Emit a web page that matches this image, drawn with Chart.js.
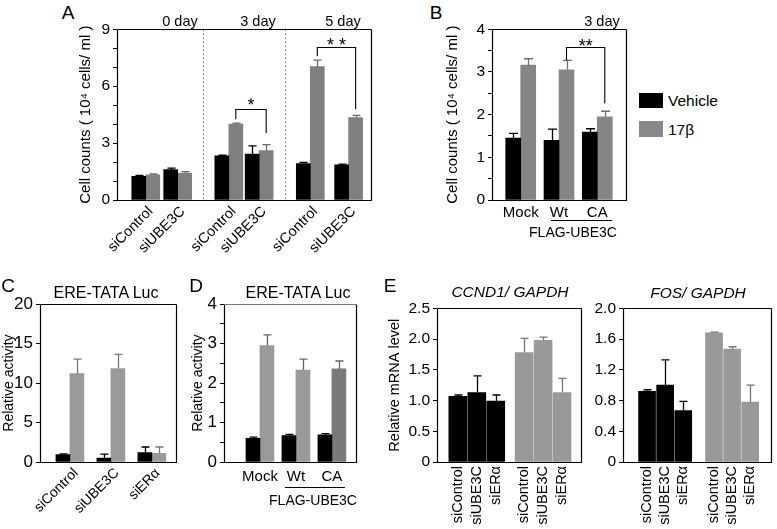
<!DOCTYPE html>
<html><head><meta charset="utf-8">
<script src="https://cdn.jsdelivr.net/npm/chart.js@4.4.1/dist/chart.umd.min.js"></script>
<style>
html,body{margin:0;padding:0;background:#fff;}
#wrap{position:relative;width:777px;height:529px;overflow:hidden;font-family:"Liberation Sans",Arial,Helvetica,sans-serif;color:#000;background:#fff;}
#wrap canvas{position:absolute;}
.t{position:absolute;white-space:nowrap;line-height:1;transform:translate(-50%,-50%);z-index:5;}
.tl{position:absolute;white-space:nowrap;line-height:1;transform:translate(0,-50%);z-index:5;}
.sw{position:absolute;z-index:5;}
</style></head><body><div id="wrap"></div>
<script>
// ---------------- data ----------------
const seriesNames = ['Vehicle', '17\u03B2'];

const aCategories = ['siControl', 'siUBE3C', 'siControl', 'siUBE3C', 'siControl', 'siUBE3C'];
const aDays = ['0 day', '3 day', '5 day'];
const aVehicle = [1.25, 1.60, 2.33, 2.42, 1.92, 1.85];
const aVehicleErr = [0.05, 0.08, 0.03, 0.43, 0.06, 0.04];
const aE2 = [1.33, 1.42, 4.00, 2.60, 7.03, 4.35];
const aE2Err = [0.04, 0.08, 0.05, 0.32, 0.35, 0.11];

const bCategories = ['Mock', 'Wt', 'CA'];
const bVehicle = [1.45, 1.40, 1.59];
const bVehicleErr = [0.11, 0.26, 0.08];
const bE2 = [3.16, 3.05, 1.95];
const bE2Err = [0.15, 0.22, 0.13];

const cCategories = ['siControl', 'siUBE3C', 'siER\u03B1'];
const cVehicle = [0.95, 0.50, 1.20];
const cVehicleErr = [0.08, 0.50, 0.70];
const cE2 = [11.2, 11.85, 1.10];
const cE2Err = [1.85, 1.80, 0.80];

const dCategories = ['Mock', 'Wt', 'CA'];
const dVehicle = [0.60, 0.67, 0.69];
const dVehicleErr = [0.03, 0.03, 0.03];
const dE2 = [2.95, 2.33, 2.36];
const dE2Err = [0.27, 0.28, 0.20];

const eCategories = ['siControl', 'siUBE3C', 'siER\u03B1'];
const eCcnd1Vehicle = [1.07, 1.13, 0.99];
const eCcnd1VehicleErr = [0.02, 0.27, 0.10];
const eCcnd1E2 = [1.78, 1.98, 1.13];
const eCcnd1E2Err = [0.23, 0.05, 0.23];
const eFosVehicle = [0.92, 1.00, 0.67];
const eFosVehicleErr = [0.02, 0.33, 0.12];
const eFosE2 = [1.68, 1.47, 0.78];
const eFosE2Err = [0.01, 0.03, 0.22];

// ---------------- rendering ----------------
Chart.defaults.font.family = '"Liberation Sans", Arial, Helvetica, sans-serif';
Chart.defaults.color = '#000';
const FONT = '"Liberation Sans", Arial, Helvetica, sans-serif';
const wrap = document.getElementById('wrap');

const panelPlugin = {
  id: 'panel',
  beforeDatasetsDraw(chart) {
    const o = chart.options.plugins.panel || {};
    const ctx = chart.ctx, ca = chart.chartArea, xs = chart.scales.x;
    if (o.separators) {
      ctx.save();
      ctx.strokeStyle = '#808080'; ctx.lineWidth = 1; ctx.setLineDash([2, 2]);
      o.separators.forEach(v => {
        const x = Math.round(xs.getPixelForValue(v)) + 0.5;
        ctx.beginPath(); ctx.moveTo(x, ca.top); ctx.lineTo(x, ca.bottom); ctx.stroke();
      });
      ctx.restore();
    }
  },
  afterDatasetsDraw(chart) {
    const o = chart.options.plugins.panel || {};
    const ctx = chart.ctx, ca = chart.chartArea, xs = chart.scales.x, ys = chart.scales.y;
    ctx.save();
    // error bars
    chart.data.datasets.forEach((ds, di) => {
      const meta = chart.getDatasetMeta(di);
      meta.data.forEach((el, i) => {
        const v = ds.data[i].y, e = ds.errors[i];
        const yTop = ys.getPixelForValue(v + e);
        const x = Math.round(el.x) + 0.5;
        const cap = o.cap || 8;
        ctx.strokeStyle = ds.errColor; ctx.lineWidth = 1.3;
        ctx.beginPath();
        ctx.moveTo(x, el.y); ctx.lineTo(x, yTop);
        ctx.moveTo(x - cap / 2, yTop); ctx.lineTo(x + cap / 2, yTop);
        ctx.stroke();
      });
    });
    // frame
    ctx.lineWidth = 1.2;
    const l = Math.round(ca.left) + 0.5, r = Math.round(ca.right) + 0.5, t = Math.round(ca.top) + 0.5, b = Math.round(ca.bottom) + 0.5;
    ctx.strokeStyle = '#000';
    ctx.beginPath(); ctx.moveTo(l, t); ctx.lineTo(l, b); ctx.lineTo(r, b); ctx.lineTo(r, t); ctx.stroke();
    ctx.strokeStyle = o.topColor || '#000';
    ctx.beginPath(); ctx.moveTo(l, t); ctx.lineTo(r, t); ctx.stroke();
    // brackets
    (o.brackets || []).forEach(bk => {
      const xa = chart.getDatasetMeta(bk.from[0]).data[bk.from[1]].x;
      const xb = chart.getDatasetMeta(bk.to[0]).data[bk.to[1]].x;
      const y = Math.round(ys.getPixelForValue(bk.y)) + 0.5;
      ctx.strokeStyle = '#000'; ctx.lineWidth = 1.1;
      ctx.beginPath();
      ctx.moveTo(xa, ys.getPixelForValue(bk.yFrom)); ctx.lineTo(xa, y);
      ctx.lineTo(xb, y); ctx.lineTo(xb, ys.getPixelForValue(bk.yTo));
      ctx.stroke();
      ctx.fillStyle = '#000';
      ctx.font = bk.size + 'px ' + FONT;
      ctx.textAlign = 'center'; ctx.textBaseline = 'alphabetic';
      ctx.fillText(bk.label, (xa + xb) / 2, y - bk.gap + 0.58 * bk.size);
    });
    // underline below tick labels
    if (o.underline) {
      const u = o.underline;
      const x1 = xs.getPixelForValue(u.fromValue) + u.dl;
      const x2 = xs.getPixelForValue(u.toValue) + u.dr;
      const y = Math.round(ca.bottom + u.dy) + 0.5;
      ctx.strokeStyle = '#000'; ctx.lineWidth = 1;
      ctx.beginPath(); ctx.moveTo(x1, y); ctx.lineTo(x2, y); ctx.stroke();
    }
    ctx.restore();
  }
};

function makePanel(p) {
  const pt = 12, pr = 6;
  const T = p.area.t - pt;
  const L = p.yTitle ? Math.round(p.titleX - p.titleSize * 0.6) : p.area.l - 36;
  const yw = p.area.l - L;
  const W = p.area.r + pr - L;
  const H = p.area.b + p.xH - T;
  const c = document.createElement('canvas');
  c.width = W; c.height = H;
  c.style.left = L + 'px'; c.style.top = T + 'px';
  c.style.width = W + 'px'; c.style.height = H + 'px';
  wrap.appendChild(c);
  new Chart(c, {
    type: 'bar',
    data: {
      datasets: p.datasets.map(d => ({
        label: d.label,
        data: d.pos.map((x, i) => ({ x: x, y: d.values[i] })),
        errors: d.errors,
        errColor: d.errColor,
        backgroundColor: d.color,
        borderWidth: 0,
        barThickness: p.barThickness,
        grouped: p.grouped
      }))
    },
    options: {
      responsive: false, animation: false, events: [],
      devicePixelRatio: 1,
      layout: { padding: { top: pt, right: pr, left: 0, bottom: 0 } },
      plugins: { legend: { display: false }, tooltip: { enabled: false }, panel: p.extra || {} },
      scales: {
        x: {
          type: 'linear', min: p.xMin, max: p.xMax, offset: false, bounds: 'data',
          grid: { display: false, drawTicks: false, tickLength: 0 }, border: { display: false },
          afterBuildTicks: s => { s.ticks = p.xPos.map(v => ({ value: v })); },
          afterFit: s => { s.height = p.xH; },
          ticks: {
            autoSkip: false, minRotation: p.xRot, maxRotation: p.xRot, padding: p.xPad,
            labelOffset: p.xLabelOffset || 0,
            font: { size: p.xFont }, color: '#000',
            callback: (v, i) => p.xLabels[i]
          }
        },
        y: {
          type: 'linear', min: p.yMin, max: p.yMax,
          grid: { display: true, drawOnChartArea: false, drawTicks: true, tickLength: 4, color: '#000', lineWidth: 1 },
          border: { display: false },
          ticks: { stepSize: p.yStep, autoSkip: false, padding: 3, font: { size: p.yFont }, color: '#000', callback: p.yFmt },
          title: { display: !!p.yTitle, text: p.yTitle || '', font: { size: p.titleSize || 14 }, padding: 0, color: '#000' },
          afterFit: s => { s.width = yw; }
        }
      }
    },
    plugins: [panelPlugin]
  });
}

const BLACK = '#000000';

// Panel A
const aPos = [0.9, 1.9, 3.5, 4.45, 6.05, 7.25];
makePanel({
  area: { l: 117, t: 29, r: 371, b: 200 },
  yTitle: 'Cell counts ( 10\u2074 cells/ ml )', titleX: 86, titleSize: 15,
  yMin: 0, yMax: 9, yStep: 1, yFont: 15.5,
  yFmt: v => (v % 3 === 0 ? String(v) : ''),
  xPos: aPos, xMin: 0, xMax: 7.95, xLabels: aCategories, xRot: 45, xFont: 14.5, xPad: 3, xH: 62,
  xLabelOffset: 5,
  barThickness: 14, grouped: true,
  datasets: [
    { label: seriesNames[0], pos: aPos, values: aVehicle, errors: aVehicleErr, color: BLACK, errColor: '#000' },
    { label: seriesNames[1], pos: aPos, values: aE2, errors: aE2Err, color: '#7f7f7f', errColor: '#6a6a6a' }
  ],
  extra: {
    separators: [2.7, 5.25], cap: 8,
    brackets: [
      { from: [1, 2], to: [1, 3], y: 4.79, yFrom: 4.26, yTo: 3.53, label: '*', size: 18, gap: 9 },
      { from: [1, 4], to: [1, 5], y: 8.05, yFrom: 7.58, yTo: 4.79, label: '* *', size: 18, gap: 7 }
    ]
  }
});

// Panel B
const bPos = [1, 2, 3];
makePanel({
  area: { l: 492, t: 29, r: 626, b: 200 },
  yTitle: 'Cell counts ( 10\u2074 cells/ ml )', titleX: 453, titleSize: 15,
  yMin: 0, yMax: 4, yStep: 0.5, yFont: 15.5,
  yFmt: v => (Number.isInteger(v) ? String(v) : ''),
  xPos: bPos, xMin: 0.25, xMax: 3.75, xLabels: bCategories, xRot: 0, xFont: 15, xPad: 4, xH: 30,
  barThickness: 15, grouped: true,
  datasets: [
    { label: seriesNames[0], pos: bPos, values: bVehicle, errors: bVehicleErr, color: BLACK, errColor: '#000' },
    { label: seriesNames[1], pos: bPos, values: bE2, errors: bE2Err, color: '#858585', errColor: '#6e6e6e' }
  ],
  extra: {
    cap: 9,
    brackets: [{ from: [1, 1], to: [1, 2], y: 3.58, yFrom: 3.27, yTo: 2.27, label: '**', size: 18, gap: 6 }],
    underline: { fromValue: 2, toValue: 3, dl: -8, dr: 15, dy: 20 }
  }
});

// Panel C
const cPos = [1, 2, 3];
makePanel({
  area: { l: 40, t: 303, r: 176, b: 462 },
  yTitle: 'Relative activity', titleX: 9, titleSize: 14,
  yMin: 0, yMax: 20, yStep: 5, yFont: 17,
  yFmt: v => String(v),
  xPos: cPos, xMin: 0.27, xMax: 3.59, xLabels: cCategories, xRot: 45, xFont: 14, xPad: 3, xH: 64,
  xLabelOffset: 6,
  barThickness: 14, grouped: true,
  datasets: [
    { label: seriesNames[0], pos: cPos, values: cVehicle, errors: cVehicleErr, color: BLACK, errColor: '#000' },
    { label: seriesNames[1], pos: cPos, values: cE2, errors: cE2Err, color: '#9a9a9a', errColor: '#777' }
  ],
  extra: { cap: 8 }
});

// Panel D
const dPos = [1, 2, 3];
makePanel({
  area: { l: 224, t: 303, r: 356, b: 462 },
  yTitle: 'Relative activity', titleX: 198, titleSize: 14,
  yMin: 0, yMax: 4, yStep: 0.5, yFont: 17,
  yFmt: v => (Number.isInteger(v) ? String(v) : ''),
  xPos: dPos, xMin: 0.0, xMax: 3.67, xLabels: dCategories, xRot: 0, xFont: 15, xPad: 6, xH: 32,
  barThickness: 14, grouped: true,
  datasets: [
    { label: seriesNames[0], pos: dPos, values: dVehicle, errors: dVehicleErr, color: BLACK, errColor: '#000' },
    { label: seriesNames[1], pos: dPos, values: dE2, errors: dE2Err, color: ['#9a9a9a', '#9a9a9a', '#7a7a7a'], errColor: '#666' }
  ],
  extra: { cap: 8, topColor: '#777', underline: { fromValue: 2, toValue: 3, dl: -11, dr: 13, dy: 25 } }
});

// Panel E (CCND1)
const eLeftPos = [1, 2, 3, 4.5, 5.5, 6.5];
makePanel({
  area: { l: 437, t: 308, r: 581, b: 462 },
  yTitle: 'Relative mRNA level', titleX: 395, titleSize: 14.5,
  yMin: 0, yMax: 2.5, yStep: 0.5, yFont: 15.5,
  yFmt: v => (v === 0 ? '0' : v.toFixed(1)),
  xPos: eLeftPos, xMin: -0.1, xMax: 7.5, xLabels: eCategories.concat(eCategories), xRot: 90, xFont: 14.5, xPad: 4, xH: 66,
  barThickness: 18, grouped: false,
  datasets: [
    { label: seriesNames[0], pos: eLeftPos.slice(0, 3), values: eCcnd1Vehicle, errors: eCcnd1VehicleErr, color: BLACK, errColor: '#000' },
    { label: seriesNames[1], pos: eLeftPos.slice(3), values: eCcnd1E2, errors: eCcnd1E2Err, color: '#999999', errColor: '#777' }
  ],
  extra: { cap: 8 }
});

// Panel E (FOS)
const eRightPos = [1, 2, 3, 4.7, 5.7, 6.7];
makePanel({
  area: { l: 623, t: 308, r: 771, b: 462 },
  yTitle: null,
  yMin: 0, yMax: 2.0, yStep: 0.4, yFont: 15.5,
  yFmt: v => (v === 0 ? '0' : v.toFixed(1)),
  xPos: eRightPos, xMin: -0.33, xMax: 7.85, xLabels: eCategories.concat(eCategories), xRot: 90, xFont: 14.5, xPad: 4, xH: 66,
  barThickness: 17, grouped: false,
  datasets: [
    { label: seriesNames[0], pos: eRightPos.slice(0, 3), values: eFosVehicle, errors: eFosVehicleErr, color: BLACK, errColor: '#000' },
    { label: seriesNames[1], pos: eRightPos.slice(3), values: eFosE2, errors: eFosE2Err, color: '#999999', errColor: '#777' }
  ],
  extra: { cap: 8 }
});

// ---------------- text annotations ----------------
function txt(s, x, y, size, opts) {
  opts = opts || {};
  const d = document.createElement('div');
  d.className = opts.left ? 'tl' : 't';
  d.textContent = s;
  d.style.left = x + 'px'; d.style.top = y + 'px';
  d.style.fontSize = size + 'px';
  if (opts.italic) d.style.fontStyle = 'italic';
  wrap.appendChild(d);
}
txt('A', 68, 12, 19); txt('B', 436, 12, 19);
txt('C', 8, 285, 19); txt('D', 196, 285, 19); txt('E', 390, 285, 19);
txt(aDays[0], 180, 21, 14.5); txt(aDays[1], 258, 21, 14.5); txt(aDays[2], 343, 21, 14.5);
txt('3 day', 602, 21, 14.5);
txt('FLAG-UBE3C', 573, 232, 14); txt('FLAG-UBE3C', 313, 500, 14);
txt('ERE-TATA Luc', 106, 293, 16); txt('ERE-TATA Luc', 298, 293, 16);
txt('CCND1/ GAPDH', 510, 292, 15.5, { italic: true });
txt('FOS/ GAPDH', 698, 293, 15.5, { italic: true });

// legend
function swatch(x, y, w, h, color) {
  const d = document.createElement('div');
  d.className = 'sw';
  d.style.left = x + 'px'; d.style.top = y + 'px'; d.style.width = w + 'px'; d.style.height = h + 'px';
  d.style.background = color;
  wrap.appendChild(d);
}
swatch(639, 93, 24, 15, '#000');
swatch(639, 121, 24, 16, '#888');
txt(seriesNames[0], 668, 101, 15.5, { left: true });
txt(seriesNames[1], 668, 130, 15.5, { left: true });
</script>
</body></html>
